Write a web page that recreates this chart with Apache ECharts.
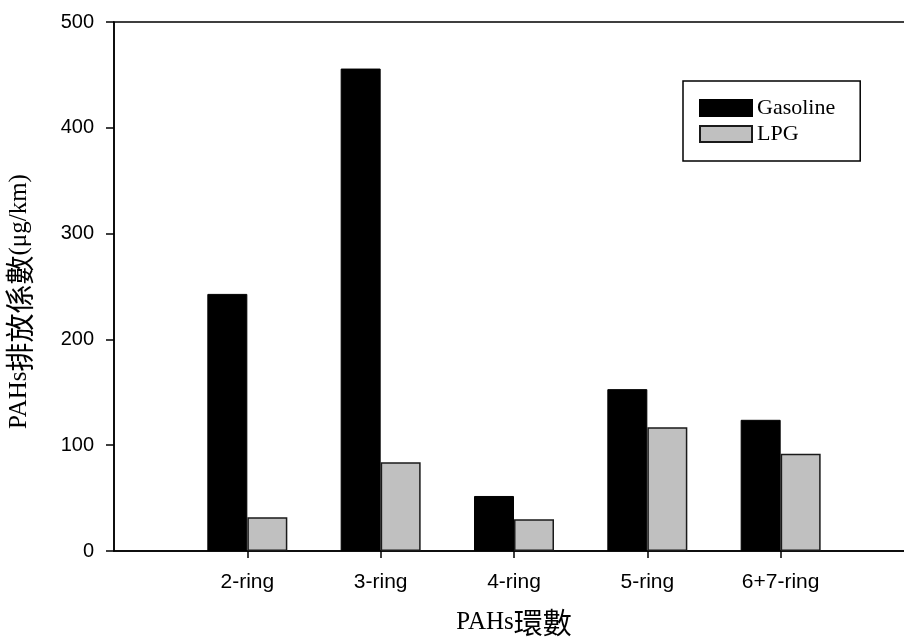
<!DOCTYPE html>
<html>
<head>
<meta charset="utf-8">
<script src="https://cdn.jsdelivr.net/npm/echarts@6/dist/echarts.min.js"></script>
<style>html,body{margin:0;padding:0;background:#fff}#c{width:904px;height:637px}</style>
</head>
<body>
<div id="c"></div>
<script>
const categories = ['2-ring', '3-ring', '4-ring', '5-ring', '6+7-ring'];
const gasoline = [243, 456, 52, 153, 124];
const lpg = [32, 84, 30, 117, 92];
const yTicks = [0, 100, 200, 300, 400, 500];

// pad with empty slots at both ends so categories sit at positions 1..5 of 0..6
const cats = [''].concat(categories, ['']);
const pad = arr => [null].concat(arr, [null]);

const richName = {
  l: { fontFamily: 'Liberation Serif', fontSize: 25, color: '#000' },
  c: { fontFamily: '"Noto Sans CJK TC"', fontSize: 29, color: '#000' }
};

const chart = echarts.init(document.getElementById('c'));
chart.setOption({
  animation: false,
  backgroundColor: '#fff',
  grid: { left: 114, width: 800, top: 22, bottom: 86, outerBoundsMode: 'none', containLabel: false,
    show: true, borderColor: '#000', borderWidth: 1.5, backgroundColor: 'transparent' },
  legend: {
    orient: 'vertical', left: 683, top: 81,
    padding: [16, 25, 16, 16], itemGap: 4, itemWidth: 52, itemHeight: 16, itemTextGap: 12,
    borderColor: '#000', borderWidth: 1.5, backgroundColor: '#fff',
    icon: 'rect',
    textStyle: { fontFamily: 'Liberation Serif', fontSize: 22, color: '#000' },
    data: ['Gasoline', 'LPG']
  },
  xAxis: {
    type: 'category', data: cats, boundaryGap: false,
    name: '{l|PAHs}{c|環數}', nameLocation: 'middle', nameGap: 57,
    nameTextStyle: { rich: richName },
    axisLine: { lineStyle: { color: '#000', width: 1.5 } },
    axisTick: { length: 7, lineStyle: { color: '#000', width: 1.5 }, interval: (i, v) => v !== '' },
    axisLabel: { color: '#000', fontFamily: 'Liberation Sans', fontSize: 21, margin: 21, interval: 0 },
    splitLine: { show: false }
  },
  yAxis: {
    type: 'value', min: 0, max: 500, interval: 100,
    name: '{l|PAHs}{c|排放係數}{l|(μg/km)}', nameLocation: 'middle', nameGap: 80,
    nameTextStyle: { rich: richName, padding: [0, 30, 0, 0] },
    axisLine: { show: true, lineStyle: { color: '#000', width: 1.5 } },
    axisTick: { show: true, length: 8, lineStyle: { color: '#000', width: 1.5 } },
    axisLabel: { color: '#000', fontFamily: 'Liberation Sans', fontSize: 20, margin: 20,
      formatter: v => yTicks.includes(v) ? String(v) : '' },
    splitLine: { show: false }
  },
  series: [
    { name: 'Gasoline', type: 'bar', data: pad(gasoline), barWidth: 40, barGap: '0%',
      itemStyle: { color: '#000', borderColor: '#000', borderWidth: 1 } },
    { name: 'LPG', type: 'bar', data: pad(lpg), barWidth: 40, barGap: '0%',
      itemStyle: { color: '#c0c0c0', borderColor: '#1a1a1a', borderWidth: 1.5 } }
  ]
});
</script>
</body>
</html>
